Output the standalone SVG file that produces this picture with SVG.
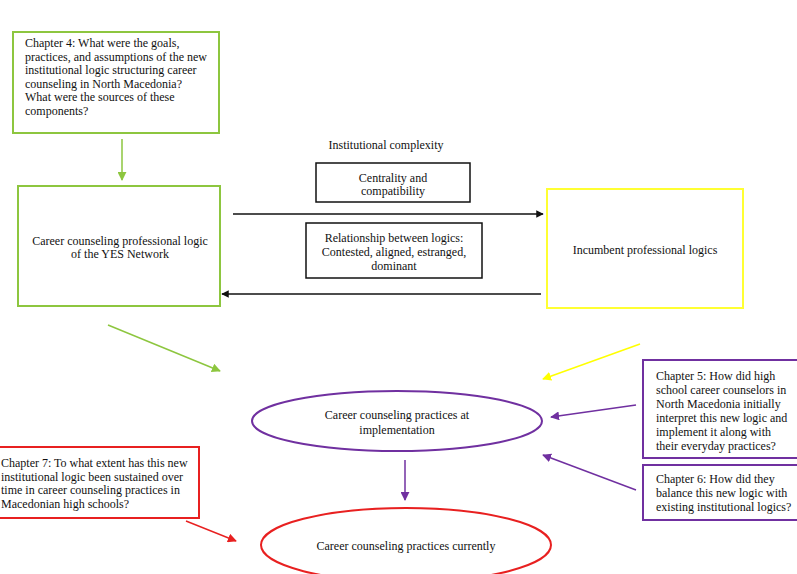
<svg xmlns="http://www.w3.org/2000/svg" width="797" height="574" viewBox="0 0 797 574">
<defs>
<style>
text{font-family:"Liberation Serif","Times New Roman",serif;font-size:12px;fill:#111;}
.c{text-anchor:middle;}
.g{fill:#fff;stroke:#8dc63f;stroke-width:2;}
.y{fill:#fff;stroke:#ffff33;stroke-width:2;}
.p{fill:#fff;stroke:#7030a0;stroke-width:2;}
.r{fill:#fff;stroke:#e82020;stroke-width:2;}
.k{fill:#fff;stroke:#111;stroke-width:1.5;}
</style>
<marker id="ak" viewBox="0 0 10 10" refX="9" refY="5" markerWidth="5" markerHeight="5" orient="auto"><path d="M0,0L10,5L0,10z" fill="#111"/></marker>
<marker id="ag" viewBox="0 0 10 10" refX="9" refY="5" markerWidth="6" markerHeight="6" orient="auto"><path d="M0,0L10,5L0,10z" fill="#8dc63f"/></marker>
<marker id="ay" viewBox="0 0 10 10" refX="9" refY="5" markerWidth="6" markerHeight="6" orient="auto"><path d="M0,0L10,5L0,10z" fill="#ffff00"/></marker>
<marker id="ap" viewBox="0 0 10 10" refX="9" refY="5" markerWidth="6" markerHeight="6" orient="auto"><path d="M0,0L10,5L0,10z" fill="#7030a0"/></marker>
<marker id="ar" viewBox="0 0 10 10" refX="9" refY="5" markerWidth="6" markerHeight="6" orient="auto"><path d="M0,0L10,5L0,10z" fill="#e82020"/></marker>
</defs>
<rect width="797" height="574" fill="#fff"/>

<g id="connectors" fill="none">
<line x1="122" y1="139" x2="122" y2="180" stroke="#8dc63f" stroke-width="1.5" marker-end="url(#ag)"/>
<line x1="233" y1="214" x2="543" y2="214" stroke="#111" stroke-width="1.5" marker-end="url(#ak)"/>
<line x1="541" y1="294" x2="222" y2="294" stroke="#111" stroke-width="1.5" marker-end="url(#ak)"/>
<line x1="108" y1="325" x2="220" y2="371" stroke="#8dc63f" stroke-width="1.5" marker-end="url(#ag)"/>
<line x1="640" y1="344" x2="543" y2="379" stroke="#ffff00" stroke-width="1.5" marker-end="url(#ay)"/>
<line x1="405" y1="460" x2="405" y2="500" stroke="#7030a0" stroke-width="1.5" marker-end="url(#ap)"/>
<line x1="636" y1="405" x2="551" y2="417" stroke="#7030a0" stroke-width="1.5" marker-end="url(#ap)"/>
<line x1="636" y1="490" x2="543" y2="455" stroke="#7030a0" stroke-width="1.5" marker-end="url(#ap)"/>
<line x1="186" y1="521" x2="236" y2="541" stroke="#e82020" stroke-width="1.5" marker-end="url(#ar)"/>
</g>

<g id="ch4">
<rect class="g" x="13" y="32" width="206" height="101"/>
<text x="25" y="47">Chapter 4: What were the goals,</text>
<text x="25" y="61">practices, and assumptions of the new</text>
<text x="25" y="74">institutional logic structuring career</text>
<text x="25" y="88">counseling in North Macedonia?</text>
<text x="25" y="101">What were the sources of these</text>
<text x="25" y="115">components?</text>
</g>

<g id="yes">
<rect class="g" x="18" y="186" width="202" height="120"/>
<text class="c" x="120" y="245">Career counseling professional logic</text>
<text class="c" x="120" y="258">of the YES Network</text>
</g>

<g id="complexity">
<text class="c" x="386" y="149">Institutional complexity</text>
</g>

<g id="centrality">
<rect class="k" x="316" y="163" width="154" height="39"/>
<text class="c" x="393" y="182">Centrality and</text>
<text class="c" x="393" y="195">compatibility</text>
</g>

<g id="relationship">
<rect class="k" x="306" y="223" width="176" height="55"/>
<text class="c" x="394" y="242">Relationship between logics:</text>
<text class="c" x="394" y="256">Contested, aligned, estranged,</text>
<text class="c" x="394" y="270">dominant</text>
</g>

<g id="incumbent">
<rect class="y" x="547" y="189" width="196" height="119"/>
<text class="c" x="645" y="254">Incumbent professional logics</text>
</g>

<g id="implementation">
<ellipse class="p" cx="397" cy="421" rx="145" ry="30"/>
<text class="c" x="397" y="419">Career counseling practices at</text>
<text class="c" x="397" y="434">implementation</text>
</g>

<g id="ch5">
<rect class="p" x="643" y="360" width="160" height="98"/>
<text x="656" y="380">Chapter 5: How did high</text>
<text x="656" y="394">school career counselors in</text>
<text x="656" y="408">North Macedonia initially</text>
<text x="656" y="422">interpret this new logic and</text>
<text x="656" y="436">implement it along with</text>
<text x="656" y="450">their everyday practices?</text>
</g>

<g id="ch6">
<rect class="p" x="643" y="465" width="160" height="55"/>
<text x="656" y="483">Chapter 6: How did they</text>
<text x="656" y="497">balance this new logic with</text>
<text x="656" y="511">existing institutional logics?</text>
</g>

<g id="ch7">
<rect class="r" x="-5" y="447" width="204" height="71"/>
<text x="1" y="467">Chapter 7: To what extent has this new</text>
<text x="1" y="481">institutional logic been sustained over</text>
<text x="1" y="494">time in career counseling practices in</text>
<text x="1" y="508">Macedonian high schools?</text>
</g>

<g id="currently">
<ellipse class="r" cx="406" cy="545" rx="145" ry="37"/>
<text class="c" x="406" y="550">Career counseling practices currently</text>
</g>
</svg>
